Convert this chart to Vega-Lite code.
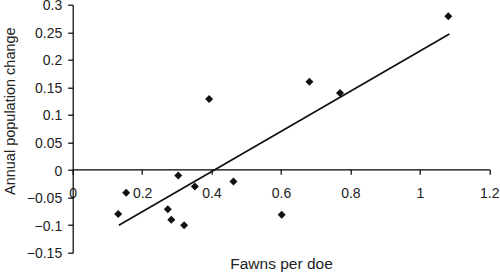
{
  "$schema": "https://vega.github.io/schema/vega-lite/v6.json",
  "width": 416.6,
  "height": 248,
  "autosize": {"type": "none"},
  "padding": {"left": 72.7, "top": 4.7, "right": 10.7, "bottom": 23.3},
  "background": "white",
  "config": {
    "view": {"stroke": null},
    "axis": {
      "grid": false,
      "labelFont": "Liberation Sans",
      "titleFont": "Liberation Sans",
      "labelFontSize": 14,
      "titleFontSize": 14.5,
      "titleFontWeight": "normal",
      "labelColor": "#222",
      "titleColor": "#222",
      "domainColor": "#000",
      "tickColor": "#000",
      "domainWidth": 1.2,
      "tickWidth": 1.2,
      "tickSize": 5,
      "labelOverlap": false,
      "labelFlush": false
    }
  },
  "datasets": {
    "points": [
      {"fawns": 0.131, "change": -0.080},
      {"fawns": 0.154, "change": -0.041},
      {"fawns": 0.304, "change": -0.010},
      {"fawns": 0.352, "change": -0.030},
      {"fawns": 0.274, "change": -0.071},
      {"fawns": 0.284, "change": -0.090},
      {"fawns": 0.321, "change": -0.100},
      {"fawns": 0.463, "change": -0.021},
      {"fawns": 0.393, "change": 0.129},
      {"fawns": 0.602, "change": -0.081},
      {"fawns": 0.682, "change": 0.160},
      {"fawns": 0.770, "change": 0.140},
      {"fawns": 1.082, "change": 0.279}
    ],
    "fit": [
      {"fawns": 0.133, "change": -0.100},
      {"fawns": 1.085, "change": 0.247}
    ]
  },
  "encoding": {
    "x": {
      "field": "fawns", "type": "quantitative",
      "scale": {"domain": [0, 1.2], "nice": false, "zero": false},
      "axis": {
        "title": "Fawns per doe",
        "titleFontSize": 15.5,
        "values": [0, 0.2, 0.4, 0.6, 0.8, 1, 1.2],
        "format": "~g",
        "offset": -83.4,
        "labelPadding": 12,
        "titleY": 99,
        "titleBaseline": "alphabetic"
      }
    },
    "y": {
      "field": "change", "type": "quantitative",
      "scale": {"domain": [-0.15, 0.3], "nice": false, "zero": false},
      "axis": {
        "title": "Annual population change",
        "values": [-0.15, -0.1, -0.05, 0, 0.05, 0.1, 0.15, 0.2, 0.25, 0.3],
        "format": "~g",
        "labelPadding": 6,
        "labelOffset": 1,
        "titleX": -58.5,
        "titleY": 106,
        "titleAngle": 270,
        "titleAlign": "center",
        "titleBaseline": "alphabetic"
      }
    }
  },
  "layer": [
    {
      "data": {"name": "fit"},
      "mark": {"type": "line", "color": "#111", "strokeWidth": 1.7}
    },
    {
      "data": {"name": "points"},
      "mark": {"type": "point", "shape": "diamond", "filled": true, "size": 64, "color": "#111", "opacity": 1}
    }
  ]
}
